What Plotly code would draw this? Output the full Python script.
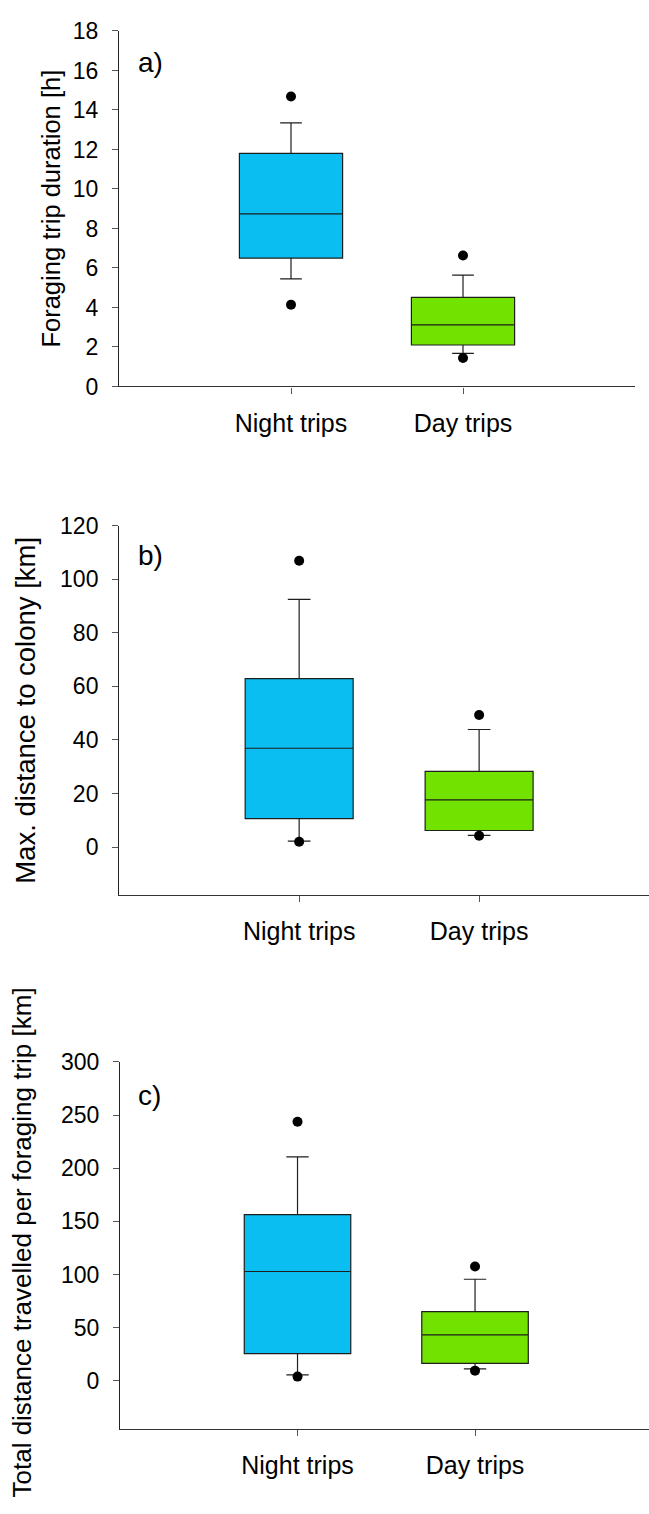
import plotly.graph_objects as go

# ---------------- data ----------------
categories = ["Night trips", "Day trips"]

# a) Foraging trip duration [h]
dur_lower = [5.45, 1.68]
dur_q1 = [6.5, 2.1]
dur_median = [8.74, 3.12]
dur_q3 = [11.8, 4.51]
dur_upper = [13.35, 5.64]
dur_out_low = [4.14, 1.44]
dur_out_high = [14.68, 6.63]

# b) Max. distance to colony [km]
maxd_lower = [2.2, 4.4]
maxd_q1 = [10.6, 6.2]
maxd_median = [36.9, 17.6]
maxd_q3 = [62.9, 28.3]
maxd_upper = [92.5, 43.9]
maxd_out_low = [2.0, 4.2]
maxd_out_high = [106.9, 49.3]

# c) Total distance travelled per foraging trip [km]
tot_lower = [5.6, 11.1]
tot_q1 = [25.5, 16.4]
tot_median = [102.8, 43.2]
tot_q3 = [156.4, 65.1]
tot_upper = [210.7, 95.5]
tot_out_low = [3.9, 9.5]
tot_out_high = [243.7, 107.6]

y_titles = ["Foraging trip duration [h]",
            "Max. distance to colony [km]",
            "Total distance travelled per foraging trip [km]"]
panel_letters = ["a)", "b)", "c)"]
y_ticks = [list(range(0, 19, 2)), list(range(0, 121, 20)), list(range(0, 301, 50))]

# ---------------- style ----------------
W, H = 649, 1514
FONT = "Liberation Sans, Arial, sans-serif"
fill_colors = ["#0BBEF2", "#72E300"]
line_col = "#1e1e1e"

panels = [
    dict(lower=dur_lower, q1=dur_q1, med=dur_median, q3=dur_q3, upper=dur_upper,
         olow=dur_out_low, ohigh=dur_out_high,
         xdom=(119 / W, 635 / W), ypix=(18.3, 380.0), yrange=[0, 18], xrange=[-1, 2],
         title_x=51, title_y=199, title_size=25.5, letter_y=50),
    dict(lower=maxd_lower, q1=maxd_q1, med=maxd_median, q3=maxd_q3, upper=maxd_upper,
         olow=maxd_out_low, ohigh=maxd_out_high,
         xdom=(119.2 / W, 1.0), ypix=(521.7, 897.7), yrange=[-18, 120], xrange=[-1, 1.944],
         title_x=26, title_y=710, title_size=27.5, letter_y=552),
    dict(lower=tot_lower, q1=tot_q1, med=tot_median, q3=tot_q3, upper=tot_upper,
         olow=tot_out_low, ohigh=tot_out_high,
         xdom=(120 / W, 1.0), ypix=(1067.3, 1440.3), yrange=[-45, 300], xrange=[-1, 1.98],
         title_x=22, title_y=1251, title_size=26, letter_y=1101),
]

fig = go.Figure()
annotations = []
layout_axes = {}

for i, p in enumerate(panels):
    sfx = "" if i == 0 else str(i + 1)
    xa, ya = "x" + sfx, "y" + sfx
    for j, cat in enumerate(categories):
        fig.add_trace(go.Box(
            x=[j], q1=[p["q1"][j]], median=[p["med"][j]], q3=[p["q3"][j]],
            lowerfence=[p["lower"][j]], upperfence=[p["upper"][j]],
            width=0.6, whiskerwidth=0.21, boxpoints=False,
            fillcolor=fill_colors[j], line=dict(color=line_col, width=1.2),
            xaxis=xa, yaxis=ya, showlegend=False, name=cat))
        fig.add_trace(go.Scatter(
            x=[j, j], y=[p["olow"][j], p["ohigh"][j]], mode="markers",
            marker=dict(color="black", size=10),
            xaxis=xa, yaxis=ya, showlegend=False, hoverinfo="y"))

    y0 = 1 - p["ypix"][1] / H
    y1 = 1 - p["ypix"][0] / H
    layout_axes["xaxis" + sfx] = dict(
        domain=list(p["xdom"]), range=p["xrange"], anchor=ya,
        tickmode="array", tickvals=[0, 1], ticktext=categories,
        ticks="outside", ticklen=6, tickcolor="#555555", tickwidth=1,
        showline=True, linecolor="#333333", linewidth=1.3,
        showgrid=False, zeroline=False, ticklabelstandoff=8,
        tickfont=dict(family=FONT, size=25, color="black"))
    layout_axes["yaxis" + sfx] = dict(
        domain=[y0, y1], range=p["yrange"], anchor=xa,
        tickmode="array", tickvals=y_ticks[i],
        ticks="outside", ticklen=6, tickcolor="#555555", tickwidth=1,
        showline=True, linecolor="#222222", linewidth=1.3,
        showgrid=False, zeroline=False, ticklabelstandoff=9,
        tickfont=dict(family=FONT, size=23, color="black"))

    annotations.append(dict(
        text=y_titles[i], textangle=-90, xref="paper", yref="paper",
        x=p["title_x"] / W, y=1 - p["title_y"] / H, xanchor="center", yanchor="middle",
        showarrow=False, font=dict(family=FONT, size=p["title_size"], color="black")))
    annotations.append(dict(
        text=panel_letters[i], xref="paper", yref="paper",
        x=136 / W, y=1 - p["letter_y"] / H, xanchor="left", yanchor="middle",
        showarrow=False, font=dict(family=FONT, size=28, color="black")))

fig.update_layout(
    width=W, height=H, margin=dict(l=0, r=0, t=0, b=0),
    paper_bgcolor="white", plot_bgcolor="white",
    annotations=annotations, **layout_axes)

fig.write_html("out.html", config={"displayModeBar": False},
               post_script="document.body.style.margin='0';document.body.style.overflow='hidden';")
